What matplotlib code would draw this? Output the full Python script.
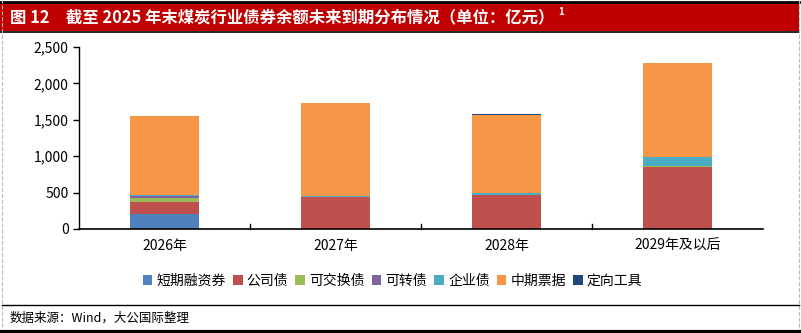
import matplotlib.pyplot as plt
import numpy as np
from matplotlib.patches import Rectangle
from matplotlib.lines import Line2D

plt.rcParams['font.family'] = ['Noto Sans CJK SC', 'DejaVu Sans']

categories = ['2026年', '2027年', '2028年', '2029年及以后']
series_names = ['短期融资券', '公司债', '可交换债', '可转债', '企业债', '中期票据', '定向工具']
colors = ['#4F81BD', '#C0504D', '#9BBB59', '#8064A2', '#4BACC6', '#F79646', '#1F497D']

# values in 亿元
short_term = [205, 0, 0, 0]
corporate = [165, 440, 467, 850]
exchangeable = [60, 0, 0, 20]
convertible = [20, 0, 0, 0]
enterprise = [12, 20, 27, 124]
mtn = [1090, 1265, 1072, 1280]
directed = [0, 0, 14, 0]

series = [short_term, corporate, exchangeable, convertible, enterprise, mtn, directed]

fig = plt.figure(figsize=(8.01, 3.33), dpi=100)

# title band
fig.patches.append(Rectangle((0.0, 1 - 31 / 333), 0.997, 28 / 333, transform=fig.transFigure,
                             facecolor='#C00000', edgecolor='none', zorder=0))
fig.add_artist(Line2D([0.0, 0.997], [1 - 2 / 333, 1 - 2 / 333], color='black', lw=2))
fig.add_artist(Line2D([0.0, 0.997], [1 - 31.5 / 333, 1 - 31.5 / 333], color='black', lw=1.2))
fig.text(0.012, 1 - 17 / 333, '图 12　截至 2025 年末煤炭行业债券余额未来到期分布情况（单位：亿元）',
         color='white', fontsize=11.8, fontweight='bold', va='center', ha='left')
fig.text(0.697, 1 - 12 / 333, '1', color='white', fontsize=7, fontweight='bold', va='center')

# dashed side borders
fig.add_artist(Line2D([0.003, 0.003], [0, 1], color='#BBBBBB', lw=0.8, ls='--'))
fig.add_artist(Line2D([0.997, 0.997], [0, 1], color='#BBBBBB', lw=0.8, ls='--'))

ax = fig.add_axes([79 / 801, 1 - 229 / 333, 684 / 801, 182 / 333])
x = np.arange(len(categories))
bottom = np.zeros(len(categories))
for name, vals, c in zip(series_names, series, colors):
    ax.bar(x, vals, width=0.4, bottom=bottom, color=c, label=name)
    bottom += np.array(vals)

ax.set_xlim(-0.5, 3.5)
ax.set_ylim(0, 2500)
ax.set_yticks(range(0, 2501, 500))
ax.set_yticklabels([f'{v:,}' for v in range(0, 2501, 500)], fontsize=10)
ax.set_xticks(x)
ax.set_xticklabels(categories, fontsize=10)
ax.tick_params(axis='x', length=0, pad=7)
ax.tick_params(axis='y', length=4, direction='out', width=1)
for b in [0.5, 1.5, 2.5]:
    ax.plot([b, b], [0, 2500 * 5.5 / 182], color='black', lw=1, clip_on=False)
for s in ['top', 'right']:
    ax.spines[s].set_visible(False)
ax.spines['left'].set_linewidth(1)
ax.spines['bottom'].set_linewidth(1.2)

fig.legend(*ax.get_legend_handles_labels(), loc='center', bbox_to_anchor=(0.49, 1 - 281 / 333),
           ncol=7, frameon=False, fontsize=10, handlelength=0.7, handleheight=0.7,
           handletextpad=0.3, columnspacing=0.5)

# bottom lines and source
fig.add_artist(Line2D([0.003, 0.997], [1 - 305 / 333, 1 - 305 / 333], color='black', lw=1))
fig.add_artist(Line2D([0.0, 1.0], [1 - 332 / 333, 1 - 332 / 333], color='black', lw=3))
fig.text(0.012, 1 - 318 / 333, '数据来源：Wind，大公国际整理', fontsize=9, va='center', ha='left')

fig.savefig('out.png', dpi=100)
